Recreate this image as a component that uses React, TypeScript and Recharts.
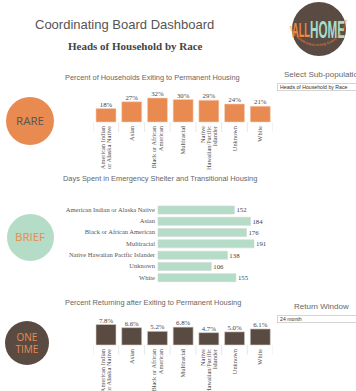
import React from "react";
import { BarChart, Bar, XAxis, YAxis, LabelList } from "recharts";

const categories = [
  "American Indian or Alaska Native",
  "Asian",
  "Black or African American",
  "Multiracial",
  "Native Hawaiian/Pacific Islander",
  "Unknown",
  "White",
];

// wrapped labels for the rotated axes
const wrappedLabels: Record<string, string[]> = {
  "American Indian or Alaska Native": ["American Indian", "or Alaska Native"],
  "Black or African American": ["Black or African", "American"],
  "Native Hawaiian/Pacific Islander": ["Native", "Hawaiian/Pacific", "Islander"],
};

const exitPct = [18, 27, 32, 30, 29, 24, 21];
const daysSpent = [152, 184, 176, 191, 138, 106, 155];
const returnPct = [7.8, 6.6, 5.2, 6.8, 4.7, 5.0, 6.1];

const exitData = categories.map((name, i) => ({ name, value: exitPct[i] }));
const daysData = categories.map((name, i) => ({
  name: name === "Native Hawaiian/Pacific Islander" ? "Native Hawaiian Pacific Islander" : name,
  value: daysSpent[i],
}));
const returnData = categories.map((name, i) => ({ name, value: returnPct[i] }));

const SERIF = "'Liberation Serif', 'Times New Roman', serif";
const SANS = "'Liberation Sans', Arial, sans-serif";
const ORANGE = "#e98a51";
const MINT = "#b4dcc7";
const BROWN = "#5a4b42";
const BAND = 180 / 7;

function RotatedTick(props: any) {
  const { x, y, payload, index } = props;
  const lines = wrappedLabels[payload.value] ?? [payload.value];
  const lh = 6.4;
  const start = -((lines.length - 1) * lh) / 2;
  return (
    <g transform={`translate(${x},${y})`}>
      <line x1={-BAND / 2} x2={-BAND / 2} y1={-4} y2={6} stroke="#e2e2e2" strokeWidth={0.8} />
      {index === categories.length - 1 && (
        <line x1={BAND / 2} x2={BAND / 2} y1={-4} y2={6} stroke="#e2e2e2" strokeWidth={0.8} />
      )}
      <text transform="rotate(-90)" textAnchor="end" fontSize={6.4} fontFamily={SERIF} fill="#555">
        {lines.map((l: string, i: number) => (
          <tspan key={i} x={0} y={start + i * lh} dy="0.35em">
            {l}
          </tspan>
        ))}
      </text>
    </g>
  );
}

function LeftTick(props: any) {
  const { x, y, payload } = props;
  return (
    <text x={x} y={y} dy="0.35em" textAnchor="end" fontSize={6.5} fontFamily={SERIF} fill="#555">
      {payload.value}
    </text>
  );
}

function Circle({ cx, cy, r, fill, lines, color }: any) {
  return (
    <div
      style={{
        position: "absolute",
        left: cx - r,
        top: cy - r,
        width: r * 2,
        height: r * 2,
        borderRadius: "50%",
        background: fill,
        display: "flex",
        flexDirection: "column",
        alignItems: "center",
        justifyContent: "center",
        color,
        fontFamily: "'Open Sans', " + SANS,
        fontSize: lines.length > 1 ? 10 : 11.5,
        lineHeight: "12px",
      }}
    >
      {lines.map((l: string) => (
        <div key={l}>{l}</div>
      ))}
    </div>
  );
}

function Logo() {
  const cx = 319;
  const cy = 29;
  return (
    <svg width={72} height={64} style={{ position: "absolute", left: cx - 36, top: cy - 31 }}>
      <defs>
        <path id="ring" d="M 6 28 A 30 30 0 0 0 64 22" />
      </defs>
      <circle cx={36} cy={31} r={27} fill={BROWN} />
      <text x={9} y={39} fontSize={21} fontWeight="bold" fontFamily={SANS} fill="#ef8a3c" textLength={18} lengthAdjust="spacingAndGlyphs">
        ALL
      </text>
      <text x={27} y={40} fontSize={24} fontWeight="bold" fontFamily={SANS} fill="#a9dcc8" textLength={35} lengthAdjust="spacingAndGlyphs">
        HOME
      </text>
      <text fontSize={3.4} fill="#ef8a3c" fontFamily={SANS}>
        <textPath href="#ring" startOffset="1%">
          Making homelessness in King County rare, brief and one-time
        </textPath>
      </text>
    </svg>
  );
}

const titleStyle: React.CSSProperties = {
  position: "absolute",
  fontFamily: SANS,
  fontSize: 7.4,
  color: "#666",
  whiteSpace: "nowrap",
};

const dropStyle: React.CSSProperties = {
  position: "absolute",
  left: 277,
  width: 85,
  height: 8,
  border: "1px solid #d4d4d4",
  boxSizing: "border-box",
  fontFamily: SANS,
  fontSize: 5.2,
  lineHeight: "6px",
  paddingLeft: 2,
  color: "#333",
  background: "#fff",
};

export default function App() {
  return (
    <div
      style={{
        position: "absolute",
        left: 0,
        top: 0,
        width: 356,
        height: 391,
        background: "#fff",
        overflow: "hidden",
      }}
    >
      <div
        style={{
          position: "absolute",
          left: 35,
          top: 17,
          fontFamily: SANS,
          fontSize: 13,
          color: "#555",
          whiteSpace: "nowrap",
        }}
      >
        Coordinating Board Dashboard
      </div>
      <div
        style={{
          position: "absolute",
          left: 68,
          top: 40,
          fontFamily: SERIF,
          fontWeight: "bold",
          fontSize: 11,
          color: "#444",
          whiteSpace: "nowrap",
        }}
      >
        Heads of Household by Race
      </div>
      <Logo />

      <div style={{ ...titleStyle, left: 284, top: 70, fontSize: 8 }}>Select Sub-population</div>
      <div style={{ ...dropStyle, top: 83 }}>Heads of Household by Race</div>

      <div style={{ ...titleStyle, left: 294, top: 302, fontSize: 8 }}>Return Window</div>
      <div style={{ ...dropStyle, top: 315 }}>24 month</div>

      {/* Rare */}
      <div style={{ ...titleStyle, left: 65, top: 73 }}>Percent of Households Exiting to Permanent Housing</div>
      <Circle cx={30} cy={121} r={24} fill={ORANGE} lines={["RARE"]} color="#555" />
      <div style={{ position: "absolute", left: 93, top: 88 }}>
        <BarChart width={180} height={84} data={exitData} margin={{ top: 10, right: 0, bottom: 0, left: 0 }}>
          <XAxis dataKey="name" interval={0} height={50} axisLine={false} tickLine={false} tickSize={0} tickMargin={4} tick={<RotatedTick />} />
          <YAxis hide domain={[0, "dataMax"]} />
          <Bar dataKey="value" fill={ORANGE} stroke="#f4d2bd" strokeWidth={0.6} barSize={20} isAnimationActive={false}>
            <LabelList dataKey="value" position="top" offset={2} fontSize={6.8} fontFamily={SERIF} fill="#444" formatter={(v: any) => `${v}%`} />
          </Bar>
        </BarChart>
      </div>

      {/* Brief */}
      <div style={{ ...titleStyle, left: 63, top: 174 }}>Days Spent in Emergency Shelter and Transitional Housing</div>
      <Circle cx={30} cy={237} r={23.5} fill={MINT} lines={["BRIEF"]} color={ORANGE} />
      <div style={{ position: "absolute", left: 60, top: 204 }}>
        <BarChart width={224} height={79} data={daysData} layout="vertical" margin={{ top: 0, right: 30, bottom: 0, left: 0 }}>
          <XAxis type="number" hide domain={[0, "dataMax"]} />
          <YAxis
            type="category"
            dataKey="name"
            width={98}
            interval={0}
            axisLine={false}
            tickLine={false}
            tickSize={0}
            tickMargin={3}
            tick={<LeftTick />}
          />
          <Bar dataKey="value" fill={MINT} stroke="#cfd6d2" strokeWidth={0.6} barSize={8} isAnimationActive={false}>
            <LabelList dataKey="value" position="right" offset={2} fontSize={6.8} fontFamily={SERIF} fill="#444" />
          </Bar>
        </BarChart>
      </div>

      {/* One time */}
      <div style={{ ...titleStyle, left: 65, top: 298 }}>Percent Returning after Exiting to Permanent Housing</div>
      <Circle cx={27} cy={343} r={22} fill={BROWN} lines={["ONE", "TIME"]} color={ORANGE} />
      <div style={{ position: "absolute", left: 93, top: 316 }}>
        <BarChart width={180} height={79} data={returnData} margin={{ top: 8.5, right: 0, bottom: 0, left: 0 }}>
          <XAxis dataKey="name" interval={0} height={50} axisLine={false} tickLine={false} tickSize={0} tickMargin={4} tick={<RotatedTick />} />
          <YAxis hide domain={[0, "dataMax"]} />
          <Bar dataKey="value" fill={BROWN} stroke="#d9d3cf" strokeWidth={0.6} barSize={20} isAnimationActive={false}>
            <LabelList dataKey="value" position="top" offset={2} fontSize={6.8} fontFamily={SERIF} fill="#444" formatter={(v: any) => `${Number(v).toFixed(1)}%`} />
          </Bar>
        </BarChart>
      </div>
    </div>
  );
}
